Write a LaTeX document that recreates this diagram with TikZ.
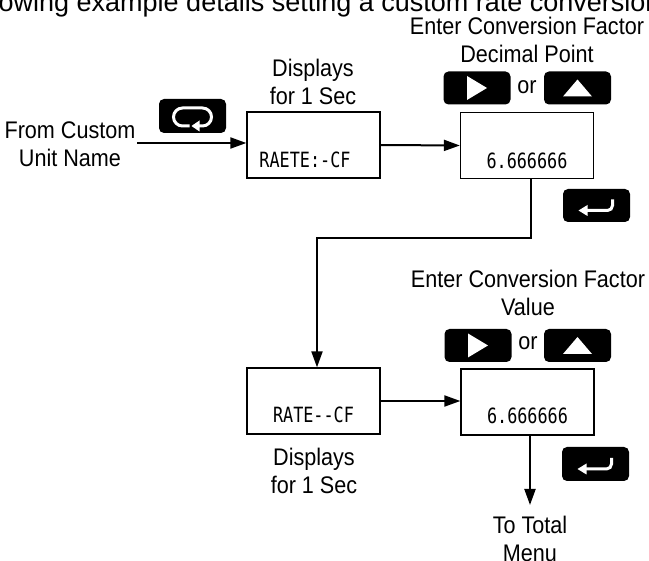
\documentclass[tikz,border=0pt]{standalone}
\usepackage{fontspec}
\setmainfont{Liberation Sans}
\newfontfamily\lblfont[FakeStretch=0.9]{Liberation Sans}
\newfontfamily\lcdfont[FakeStretch=0.8]{DejaVu Sans Mono}
\usetikzlibrary{arrows.meta}
\begin{document}
\begin{tikzpicture}[x=1pt,y=-1pt,
  lbl/.style={font=\lblfont\fontsize{24pt}{27.5pt}\selectfont, align=center, inner sep=0pt, anchor=north},
  lcdbox/.style={draw, line width=1.3pt, minimum width=133pt, minimum height=66pt, inner sep=0pt},
  lcdtext/.style={font=\lcdfont\fontsize{21pt}{21pt}\selectfont, inner sep=0pt, anchor=base},
  btn/.style={fill=black, rounded corners=5pt, minimum width=67pt, minimum height=33pt, inner sep=0pt},
  ortext/.style={font=\lblfont\fontsize{24pt}{24pt}\selectfont, inner sep=0pt, anchor=base},
  arr/.style={line width=2pt, -{Triangle[length=16pt,width=11pt]}},
  sym/.style={white, line width=3pt}]
\clip (0,0) rectangle (649,561);
% title
\node[anchor=base west, inner sep=0pt, font=\fontsize{27pt}{30pt}\selectfont] (title) at (-1.5,11.5) {owing example details setting a custom rate conversion};
% labels
\node[lbl] (ecf1) at (527,17) {Enter Conversion Factor\\Decimal Point};
\node[lbl] (disp1) at (313,59) {Displays\\for 1 Sec};
\node[lbl] (from) at (70,122) {From Custom\\Unit Name};
\node[lbl] (ecf2) at (528,270) {Enter Conversion Factor\\Value};
\node[lbl] (disp2) at (314,448) {Displays\\for 1 Sec};
\node[lbl] (totot) at (530,516) {To Total\\Menu};
% display boxes
\node[lcdbox] (box1) at (313.5,145) {};
\node[lcdbox] (box2) at (527,145.5) {};
\node[lcdbox] (box3) at (313.5,401) {};
\node[lcdbox] (box4) at (527.5,402) {};
\node[lcdtext] (t1) at (305,168) {RAETE:-CF};
\node[lcdtext] (t2) at (527,169) {6.666666};
\node[lcdtext] (t3) at (313.5,423) {RATE--CF};
\node[lcdtext] (t4) at (527.5,424) {6.666666};
% buttons
\node[btn, minimum height=34pt] (loop) at (192.5,116) {};
\begin{scope}[shift={(loop.center)}]
  \draw[sym] (-3,10) -- (-10,10) arc[start angle=90,end angle=270,radius=9] -- (10,-8)
        arc[start angle=270,end angle=450,radius=9] -- (1,10);
  \fill[white] (-1,10) -- (7,4.5) -- (7,15.5) -- cycle;
\end{scope}
\node[btn] (right1) at (477,88) {};
\fill[white] ([shift={(-10,-12)}]right1.center) -- ([shift={(10,0)}]right1.center) -- ([shift={(-10,12)}]right1.center) -- cycle;
\node[ortext] (or1) at (527,94) {or};
\node[btn] (up1) at (577.5,88) {};
\fill[white] ([shift={(-14.5,8.5)}]up1.center) -- ([shift={(0,-8.5)}]up1.center) -- ([shift={(14.5,8.5)}]up1.center) -- cycle;
\node[btn] (enter1) at (596.5,205.5) {};
\begin{scope}[shift={(enter1.center)}]
  \draw[sym, rounded corners=5pt] (16,-6) -- (16,5) -- (-10,5);
  \fill[white] (-18,5) -- (-9,-0.5) -- (-9,10.5) -- cycle;
\end{scope}
\node[btn] (right2) at (478,345.5) {};
\fill[white] ([shift={(-10,-12)}]right2.center) -- ([shift={(10,0)}]right2.center) -- ([shift={(-10,12)}]right2.center) -- cycle;
\node[ortext] (or2) at (528,350) {or};
\node[btn] (up2) at (577.5,345.5) {};
\fill[white] ([shift={(-14.5,8.5)}]up2.center) -- ([shift={(0,-8.5)}]up2.center) -- ([shift={(14.5,8.5)}]up2.center) -- cycle;
\node[btn, minimum height=34pt] (enter2) at (595.5,464) {};
\begin{scope}[shift={(enter2.center)}]
  \draw[sym, rounded corners=5pt] (16,-6) -- (16,5) -- (-10,5);
  \fill[white] (-18,5) -- (-9,-0.5) -- (-9,10.5) -- cycle;
\end{scope}
% connectors
\coordinate (fc) at (137,143);
\coordinate (c1) at (531,238);
\coordinate (c2) at (317,238);
\coordinate (endpt) at (530,505);
\draw[arr] (fc) -- (fc -| box1.west);
\draw[arr] (box1.east) -- (box2.west);
\draw[arr] (c1 |- box2.south) -- (c1) -- (c2) -- (c2 |- box3.north);
\draw[arr] (box3.east) -- (box3.east -| box4.west);
\draw[arr] (endpt |- box4.south) -- (endpt);
\end{tikzpicture}
\end{document}
